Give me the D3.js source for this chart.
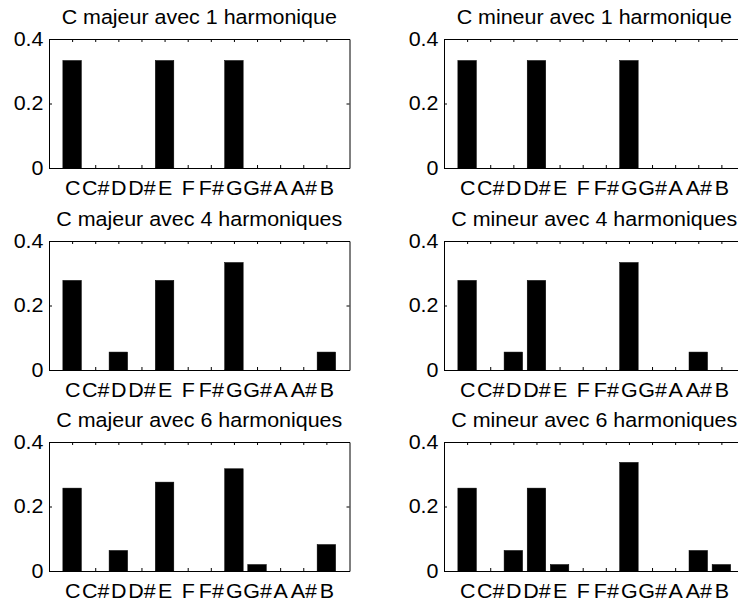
<!DOCTYPE html>
<html>
<head>
<meta charset="utf-8">
<script src="https://cdn.jsdelivr.net/npm/d3@7"></script>
<style>
  html, body { margin: 0; padding: 0; background: #fff; }
  svg { display: block; }
  text { font-family: "Liberation Sans", Arial, Helvetica, sans-serif; fill: #000; }
</style>
</head>
<body>
<svg id="chart" width="738" height="604"></svg>
<script>
// ---- Data ----
const notes = ["C", "C#", "D", "D#", "E", "F", "F#", "G", "G#", "A", "A#", "B"];
const yTicks = [0, 0.2, 0.4];
const yTickLabels = ["0", "0.2", "0.4"];

const titles = [
  "C majeur avec 1 harmonique", "C mineur avec 1 harmonique",
  "C majeur avec 4 harmoniques", "C mineur avec 4 harmoniques",
  "C majeur avec 6 harmoniques", "C mineur avec 6 harmoniques"
];

const majeur1 = [0.3333, 0, 0, 0, 0.3333, 0, 0, 0.3333, 0, 0, 0, 0];
const mineur1 = [0.3333, 0, 0, 0.3333, 0, 0, 0, 0.3333, 0, 0, 0, 0];
const majeur4 = [0.2778, 0, 0.0556, 0, 0.2778, 0, 0, 0.3333, 0, 0, 0, 0.0556];
const mineur4 = [0.2778, 0, 0.0556, 0.2778, 0, 0, 0, 0.3333, 0, 0, 0.0556, 0];
const majeur6 = [0.257, 0, 0.0636, 0, 0.2756, 0, 0, 0.317, 0.02, 0, 0, 0.082];
const mineur6 = [0.257, 0, 0.0636, 0.257, 0.02, 0, 0, 0.3367, 0, 0, 0.0636, 0.02];

const series = [majeur1, mineur1, majeur4, mineur4, majeur6, mineur6];

// ---- Layout ----
const colX = [49, 444];
const rowY = [39, 241, 442];
const plotW = 300.5;
const plotH = 129;
const fontSize = 19.5;
const hScale = 1.1;

const svg = d3.select("#chart");

series.forEach((vals, k) => {
  const col = k % 2, row = Math.floor(k / 2);
  const x0 = colX[col], y0 = rowY[row];
  const g = svg.append("g").attr("transform", `translate(${x0},${y0})`);

  const x = d3.scaleLinear().domain([0, 13]).range([0, plotW]);
  const y = d3.scaleLinear().domain([0, 0.4]).range([plotH, 0]);
  const bw = 0.8;

  // bars
  g.selectAll("rect.bar")
    .data(vals.map((v, i) => ({ i: i + 1, v })))
    .join("rect")
    .attr("class", "bar")
    .attr("x", d => x(d.i - bw / 2))
    .attr("width", d => x(d.i + bw / 2) - x(d.i - bw / 2))
    .attr("y", d => y(d.v))
    .attr("height", d => y(0) - y(d.v))
    .attr("fill", "#000")
    .attr("stroke", "#000")
    .attr("stroke-width", 0.5);

  const idx = d3.range(1, 13);

  // axes with inward ticks
  const xb = g.append("g").attr("transform", `translate(0,${plotH})`)
    .call(d3.axisBottom(x).tickValues(idx).tickFormat(i => notes[i - 1])
      .tickSizeInner(-3).tickSizeOuter(0).tickPadding(13));
  const xt = g.append("g")
    .call(d3.axisTop(x).tickValues(idx).tickFormat("")
      .tickSizeInner(-3).tickSizeOuter(0));
  const yl = g.append("g")
    .call(d3.axisLeft(y).tickValues(yTicks).tickFormat((d, i) => yTickLabels[i])
      .tickSizeInner(-3).tickSizeOuter(0).tickPadding(5));
  const yr = g.append("g").attr("transform", `translate(${plotW},0)`)
    .call(d3.axisRight(y).tickValues(yTicks).tickFormat("")
      .tickSizeInner(-3).tickSizeOuter(0));

  [xb, xt, yl, yr].forEach(a => {
    a.selectAll("path.domain").attr("stroke", "#000").attr("stroke-width", 1);
    a.selectAll(".tick line").attr("stroke", "#000").attr("stroke-width", 1);
    a.selectAll("text")
      .attr("font-size", fontSize)
      .attr("font-family", "'Liberation Sans', Arial, sans-serif")
      .attr("fill", "#000")
      .attr("transform", `scale(${hScale},1)`);
  });

  // title
  g.append("g").attr("transform", `translate(${plotW / 2},-15)`)
    .append("text")
    .attr("text-anchor", "middle")
    .attr("font-size", fontSize)
    .attr("transform", `scale(${hScale},1)`)
    .text(titles[k]);
});
</script>
</body>
</html>
